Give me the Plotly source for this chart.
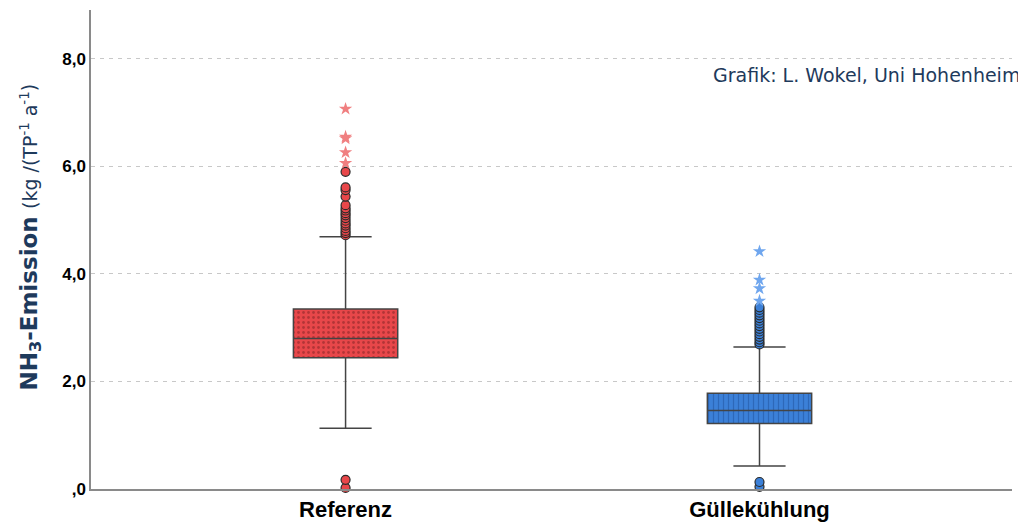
import plotly.graph_objects as go

# Groups and summary statistics (kg NH3 per animal place and year)
groups = ["Referenz", "Güllekühlung"]
q1 = [2.44, 1.22]
median = [2.80, 1.46]
q3 = [3.35, 1.78]
lower_whisker = [1.13, 0.43]
upper_whisker = [4.69, 2.64]

# Outliers (circles) and extreme values (stars)
ref_outliers = [0.02, 0.17, 4.72, 4.76, 4.80, 4.85, 4.90, 4.94, 4.99, 5.04, 5.09,
                5.13, 5.18, 5.22, 5.28, 5.44, 5.56, 5.61, 5.90]
ref_extremes = [6.06, 6.26, 6.52, 6.55, 7.07]
gk_outliers = [0.04, 0.13, 2.69, 2.73, 2.78, 2.83, 2.88, 2.93, 2.98, 3.03, 3.08,
               3.13, 3.18, 3.23, 3.28, 3.33, 3.38]
gk_extremes = [3.50, 3.73, 3.89, 4.42]

y_tick_vals = [0, 2, 4, 6, 8]
y_tick_text = [",0", "2,0", "4,0", "6,0", "8,0"]

fill_colors = ["#e8474a", "#3b80d8"]
pattern_colors = ["rgba(90,20,20,0.75)", "rgba(25,70,140,0.85)"]
pattern_shapes = [".", "|"]
pattern_sizes = [5, 5]
star_colors = ["#f07f80", "#6fa6ee"]
box_w = 0.252

fig = go.Figure()

# Patterned box bodies
for i in range(len(groups)):
    fig.add_trace(go.Bar(
        x=[i], y=[q3[i] - q1[i]], base=[q1[i]], width=box_w,
        marker=dict(color=fill_colors[i], line=dict(width=0),
                    pattern=dict(shape=pattern_shapes[i], fgcolor=pattern_colors[i],
                                 size=pattern_sizes[i], solidity=0.25)),
        showlegend=False, hoverinfo="skip",
    ))

# Box outlines, medians and whiskers
for i in range(len(groups)):
    fig.add_trace(go.Box(
        x=[i], q1=[q1[i]], median=[median[i]], q3=[q3[i]],
        lowerfence=[lower_whisker[i]], upperfence=[upper_whisker[i]],
        width=box_w, whiskerwidth=0.5, boxpoints=False,
        fillcolor="rgba(0,0,0,0)", line=dict(color="#444444", width=1.5),
        showlegend=False,
    ))

outliers = [ref_outliers, gk_outliers]
extremes = [ref_extremes, gk_extremes]
for i in range(len(groups)):
    fig.add_trace(go.Scatter(
        x=[i] * len(outliers[i]), y=outliers[i], mode="markers",
        marker=dict(symbol="circle", size=9, color=fill_colors[i],
                    line=dict(color="#2a2a2a", width=1.2)),
        cliponaxis=False, showlegend=False,
    ))
    fig.add_trace(go.Scatter(
        x=[i] * len(extremes[i]), y=extremes[i], mode="markers",
        marker=dict(symbol="star", size=10, color=star_colors[i], line=dict(width=0)),
        cliponaxis=False, showlegend=False,
    ))

navy = "#1e3a5c"
fig.add_annotation(
    text="<b>NH<sub>3</sub>-Emission</b> <span style='font-size:19px'>(kg /(TP<sup>-1</sup> a<sup>-1</sup>)</span>",
    xref="paper", yref="paper", x=-0.0662, y=0.525, textangle=-90,
    xanchor="center", yanchor="middle", showarrow=False,
    font=dict(family="DejaVu Sans", size=23, color=navy),
)
fig.add_annotation(
    text="Grafik: L. Wokel, Uni Hohenheim",
    xref="paper", yref="paper", x=0.673, y=0.864,
    xanchor="left", yanchor="middle", showarrow=False,
    font=dict(family="DejaVu Sans", size=19, color=navy),
)

fig.update_layout(
    width=1018, height=523,
    margin=dict(l=91, r=6, t=10, b=34),
    paper_bgcolor="white", plot_bgcolor="white",
    barmode="overlay",
    xaxis=dict(
        range=[-0.615, 1.61], tickvals=[0, 1], ticktext=groups,
        tickfont=dict(family="Liberation Sans", size=22, color="black", weight="bold"),
        showgrid=False, zeroline=False, showline=True, linecolor="#8a8a8a", linewidth=1.5,
        ticks="", automargin=False,
    ),
    yaxis=dict(
        range=[0, 8.91], tickvals=y_tick_vals, ticktext=y_tick_text,
        tickfont=dict(family="Liberation Sans", size=17, color="black", weight="bold"),
        showgrid=True, gridcolor="#c8c8c8", gridwidth=1, griddash="4px,5px",
        zeroline=False, showline=True, linecolor="#8a8a8a", linewidth=1.5,
        ticks="", automargin=False,
    ),
)

fig.write_html("out.html")
